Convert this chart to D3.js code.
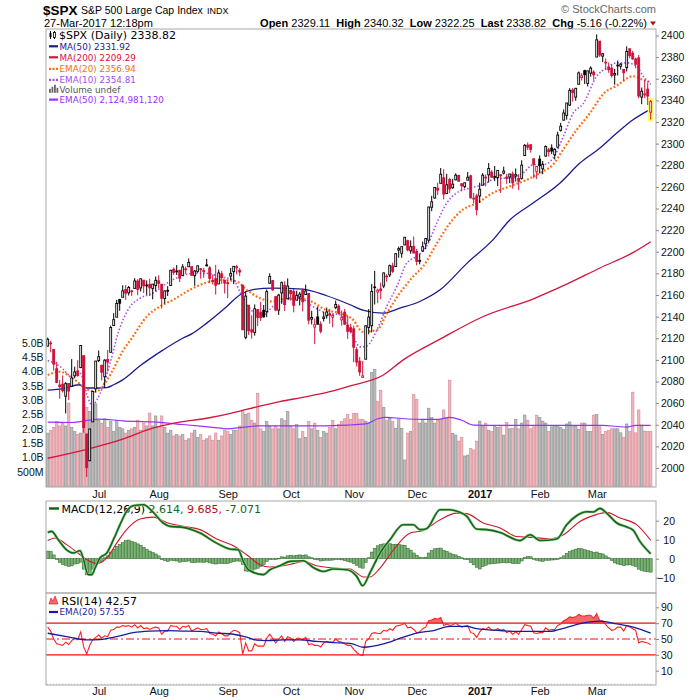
<!DOCTYPE html>
<html><head><meta charset="utf-8">
<script src="https://cdn.jsdelivr.net/npm/d3@7"></script>
<style>
body{margin:0;background:#fff}
svg{display:block}
text{font-family:"Liberation Sans",Arial,sans-serif}
.lg{font-family:"DejaVu Sans",Verdana,sans-serif}
</style>
</head><body>
<svg id="c" width="700" height="700"></svg>
<script>
// ---------- DATA ----------
const dates = [
"2016-06-08","2016-06-09","2016-06-10","2016-06-13","2016-06-14","2016-06-15","2016-06-16","2016-06-17","2016-06-20","2016-06-21","2016-06-22","2016-06-23","2016-06-24","2016-06-27","2016-06-28","2016-06-29","2016-06-30",
"2016-07-01","2016-07-05","2016-07-06","2016-07-07","2016-07-08","2016-07-11","2016-07-12","2016-07-13","2016-07-14","2016-07-15","2016-07-18","2016-07-19","2016-07-20","2016-07-21","2016-07-22","2016-07-25","2016-07-26","2016-07-27","2016-07-28","2016-07-29",
"2016-08-01","2016-08-02","2016-08-03","2016-08-04","2016-08-05","2016-08-08","2016-08-09","2016-08-10","2016-08-11","2016-08-12","2016-08-15","2016-08-16","2016-08-17","2016-08-18","2016-08-19","2016-08-22","2016-08-23","2016-08-24","2016-08-25","2016-08-26","2016-08-29","2016-08-30","2016-08-31",
"2016-09-01","2016-09-02","2016-09-06","2016-09-07","2016-09-08","2016-09-09","2016-09-12","2016-09-13","2016-09-14","2016-09-15","2016-09-16","2016-09-19","2016-09-20","2016-09-21","2016-09-22","2016-09-23","2016-09-26","2016-09-27","2016-09-28","2016-09-29","2016-09-30",
"2016-10-03","2016-10-04","2016-10-05","2016-10-06","2016-10-07","2016-10-10","2016-10-11","2016-10-12","2016-10-13","2016-10-14","2016-10-17","2016-10-18","2016-10-19","2016-10-20","2016-10-21","2016-10-24","2016-10-25","2016-10-26","2016-10-27","2016-10-28","2016-10-31",
"2016-11-01","2016-11-02","2016-11-03","2016-11-04","2016-11-07","2016-11-08","2016-11-09","2016-11-10","2016-11-11","2016-11-14","2016-11-15","2016-11-16","2016-11-17","2016-11-18","2016-11-21","2016-11-22","2016-11-23","2016-11-25","2016-11-28","2016-11-29","2016-11-30",
"2016-12-01","2016-12-02","2016-12-05","2016-12-06","2016-12-07","2016-12-08","2016-12-09","2016-12-12","2016-12-13","2016-12-14","2016-12-15","2016-12-16","2016-12-19","2016-12-20","2016-12-21","2016-12-22","2016-12-23","2016-12-27","2016-12-28","2016-12-29","2016-12-30",
"2017-01-03","2017-01-04","2017-01-05","2017-01-06","2017-01-09","2017-01-10","2017-01-11","2017-01-12","2017-01-13","2017-01-17","2017-01-18","2017-01-19","2017-01-20","2017-01-23","2017-01-24","2017-01-25","2017-01-26","2017-01-27","2017-01-30","2017-01-31",
"2017-02-01","2017-02-02","2017-02-03","2017-02-06","2017-02-07","2017-02-08","2017-02-09","2017-02-10","2017-02-13","2017-02-14","2017-02-15","2017-02-16","2017-02-17","2017-02-21","2017-02-22","2017-02-23","2017-02-24","2017-02-27","2017-02-28",
"2017-03-01","2017-03-02","2017-03-03","2017-03-06","2017-03-07","2017-03-08","2017-03-09","2017-03-10","2017-03-13","2017-03-14","2017-03-15","2017-03-16","2017-03-17","2017-03-20","2017-03-21","2017-03-22","2017-03-23","2017-03-24","2017-03-27"];

const open = [
2112.7,2115.6,2109.6,2091.8,2076.7,2077.6,2066.4,2078.2,2075.6,2085.2,2089.8,2092.8,2103.8,2031.5,2006.7,2042.7,2073.2,
2099.3,2095.1,2084.4,2100.4,2107.0,2131.7,2139.5,2155.8,2157.9,2165.1,2162.0,2163.8,2166.1,2172.9,2166.5,2173.7,2169.0,2169.8,2166.1,2168.8,
2173.1,2169.9,2156.8,2163.5,2168.8,2183.8,2182.2,2182.8,2178.0,2183.7,2186.1,2186.2,2177.8,2181.9,2184.2,2181.6,2187.8,2185.1,2173.3,2175.1,2170.2,2179.5,2173.6,
2171.3,2177.5,2181.6,2185.2,2182.8,2169.1,2120.9,2150.5,2127.9,2125.4,2146.5,2144.0,2145.9,2144.6,2170.9,2173.3,2158.5,2146.0,2161.9,2168.9,2156.5,
2164.3,2163.4,2155.2,2158.2,2164.2,2160.4,2161.4,2137.7,2130.3,2139.7,2133.0,2138.3,2140.8,2142.5,2139.4,2148.5,2149.7,2137.0,2144.1,2132.2,2129.8,
2128.7,2109.4,2098.8,2083.8,2100.6,2129.9,2131.6,2167.5,2162.7,2165.6,2168.3,2177.5,2178.6,2186.9,2186.4,2201.6,2198.6,2206.3,2210.2,2200.8,2205.0,
2200.2,2191.1,2200.7,2207.3,2210.7,2241.1,2249.7,2258.8,2263.3,2268.4,2253.8,2266.8,2259.2,2266.5,2270.5,2262.9,2260.2,2266.2,2270.2,2249.5,2251.6,
2251.6,2261.6,2268.2,2271.1,2273.6,2269.7,2268.6,2271.1,2272.7,2269.1,2269.1,2271.9,2270.0,2267.8,2267.9,2288.9,2298.6,2299.0,2286.0,2274.0,
2285.6,2276.7,2288.5,2294.3,2295.9,2289.6,2296.7,2312.3,2321.7,2326.1,2335.6,2349.6,2343.0,2354.9,2361.1,2367.5,2355.7,2365.2,2366.1,
2380.1,2394.8,2380.9,2375.2,2370.7,2369.8,2363.5,2372.5,2371.6,2368.6,2370.3,2387.7,2383.7,2378.2,2379.3,2343.0,2345.1,2350.4,2329.11];

const high = [
2120.6,2117.6,2109.6,2098.1,2081.3,2085.7,2079.6,2078.2,2100.7,2093.7,2099.7,2113.3,2103.8,2031.5,2036.1,2071.5,2098.9,
2108.7,2095.1,2100.7,2109.1,2131.7,2143.2,2155.4,2156.5,2169.0,2169.1,2168.4,2164.6,2175.6,2174.6,2175.1,2173.7,2173.5,2175.0,2170.2,2177.1,
2178.3,2170.2,2164.0,2168.2,2182.9,2185.4,2187.7,2183.4,2188.5,2186.3,2193.8,2186.2,2183.1,2187.0,2185.0,2185.2,2193.4,2186.7,2179.0,2187.9,2183.5,2182.3,2173.8,
2173.6,2184.9,2186.6,2187.9,2184.9,2169.1,2163.3,2150.5,2141.3,2151.3,2146.5,2153.6,2150.8,2165.1,2180.0,2173.8,2158.5,2161.1,2172.4,2172.7,2175.3,
2164.4,2165.5,2164.0,2162.9,2165.9,2169.6,2161.6,2145.4,2138.2,2149.2,2135.6,2144.4,2148.4,2147.2,2142.6,2154.8,2151.4,2145.7,2147.1,2140.7,2133.3,
2131.5,2111.8,2102.6,2099.1,2132.0,2146.9,2170.1,2182.3,2165.9,2171.4,2180.8,2179.2,2188.1,2189.9,2198.7,2204.8,2204.7,2213.4,2211.1,2210.5,2214.1,
2202.6,2198.0,2209.4,2212.8,2241.6,2251.7,2259.8,2264.0,2277.5,2276.2,2272.1,2268.1,2267.5,2272.6,2271.2,2263.2,2263.8,2273.8,2271.3,2254.5,2253.6,
2263.9,2272.8,2271.5,2282.1,2275.5,2279.3,2275.3,2271.8,2278.7,2272.1,2272.0,2274.3,2277.0,2271.8,2284.6,2299.6,2301.0,2299.0,2286.0,2279.1,
2289.1,2284.0,2298.3,2296.2,2299.4,2295.9,2311.1,2319.2,2331.6,2337.6,2351.3,2351.3,2351.2,2366.7,2365.1,2368.3,2367.3,2371.5,2367.8,
2401.0,2394.8,2383.9,2378.8,2375.1,2373.1,2369.1,2376.9,2374.4,2368.6,2390.0,2388.1,2385.7,2379.6,2381.9,2351.8,2358.9,2356.2,2340.32];

const low = [
2112.7,2107.0,2090.0,2078.5,2064.1,2069.8,2050.4,2062.8,2075.6,2083.0,2084.4,2092.8,2032.6,1991.7,2006.7,2042.7,2070.0,
2097.9,2080.9,2074.0,2089.4,2107.0,2131.7,2139.5,2145.4,2157.9,2155.5,2159.5,2159.0,2166.1,2159.8,2163.2,2161.9,2160.2,2159.1,2156.0,2163.5,
2166.2,2147.6,2152.1,2159.1,2168.8,2178.6,2178.5,2172.0,2178.0,2179.4,2186.1,2178.1,2168.5,2180.5,2175.1,2176.0,2186.8,2171.3,2169.7,2160.4,2170.2,2170.4,2161.4,
2157.1,2173.6,2170.1,2179.1,2177.5,2127.8,2119.1,2123.0,2119.6,2122.4,2131.2,2135.9,2139.2,2139.6,2170.9,2164.0,2145.0,2141.6,2151.8,2145.2,2156.5,
2154.8,2144.0,2155.2,2150.3,2144.9,2160.4,2132.8,2132.8,2114.7,2132.9,2124.4,2135.5,2138.2,2133.4,2130.1,2146.9,2141.9,2131.6,2132.5,2119.4,2125.5,
2097.9,2094.0,2085.2,2083.8,2100.6,2123.6,2125.4,2151.2,2152.5,2156.1,2166.4,2172.2,2176.6,2180.4,2186.4,2194.5,2194.5,2206.3,2200.4,2198.2,2198.8,
2187.4,2188.4,2200.0,2202.5,2208.9,2237.6,2249.2,2252.4,2263.3,2248.4,2253.8,2254.2,2258.2,2266.1,2265.2,2256.1,2258.8,2266.2,2249.1,2244.6,2233.6,
2245.1,2261.6,2260.5,2264.1,2268.8,2265.3,2260.8,2254.3,2271.5,2262.8,2263.4,2258.4,2265.0,2257.0,2266.7,2288.9,2294.1,2291.6,2268.0,2267.2,
2272.4,2271.7,2287.9,2288.1,2290.2,2285.4,2296.6,2311.1,2321.4,2322.2,2334.8,2338.9,2339.6,2354.9,2358.3,2355.1,2352.9,2361.9,2359.0,
2380.1,2380.2,2375.4,2368.0,2365.5,2361.0,2354.5,2363.0,2368.5,2358.2,2366.7,2379.0,2377.6,2369.7,2341.9,2336.5,2342.1,2335.7,2322.25];

const close = [
2119.1,2115.5,2096.1,2079.1,2075.3,2071.5,2078.0,2071.2,2083.3,2088.9,2085.5,2113.3,2037.4,2000.5,2036.1,2070.8,2098.9,
2103.0,2088.6,2099.7,2097.9,2129.9,2137.2,2152.1,2152.4,2163.8,2161.7,2166.9,2163.8,2173.0,2165.2,2175.0,2168.5,2169.2,2166.6,2170.1,2173.6,
2170.8,2157.0,2163.8,2164.3,2182.9,2180.9,2181.7,2175.5,2186.0,2184.1,2190.2,2178.2,2182.2,2187.0,2183.9,2182.6,2186.9,2175.4,2172.5,2169.0,2180.4,2176.1,2171.0,
2170.9,2180.0,2186.5,2186.2,2181.3,2127.8,2159.0,2127.0,2125.8,2147.3,2139.2,2139.1,2139.8,2163.1,2177.2,2164.7,2146.1,2159.9,2171.4,2151.1,2168.3,
2161.2,2150.5,2159.7,2160.8,2153.7,2163.7,2136.7,2139.2,2132.6,2133.0,2126.5,2139.6,2144.3,2141.3,2141.2,2151.3,2143.2,2139.4,2133.0,2126.4,2126.2,
2111.7,2097.9,2088.7,2085.2,2131.5,2139.6,2163.3,2167.5,2164.5,2164.2,2180.4,2176.9,2187.1,2181.9,2198.2,2202.9,2204.7,2213.4,2201.7,2204.7,2198.8,
2191.1,2192.0,2204.7,2212.2,2241.4,2246.2,2259.5,2257.0,2271.7,2253.3,2262.0,2258.1,2262.5,2270.8,2265.2,2261.0,2263.8,2268.9,2249.9,2249.3,2238.8,
2257.8,2270.8,2269.0,2277.0,2268.9,2268.9,2275.3,2270.4,2274.6,2267.9,2271.9,2263.7,2271.3,2265.2,2280.1,2298.4,2296.7,2294.7,2280.9,2278.9,
2279.6,2280.9,2297.4,2292.6,2293.1,2294.7,2307.9,2316.1,2328.3,2337.6,2349.3,2347.2,2351.2,2365.4,2362.8,2363.8,2367.3,2369.8,2363.6,
2396.0,2381.9,2383.1,2375.3,2368.4,2363.0,2364.9,2372.6,2373.5,2365.5,2385.3,2381.4,2378.3,2373.5,2344.0,2348.5,2346.0,2344.0,2338.82];
const prevCloseBefore = 2112.1;

// volume in billions of shares
const volumeB = [
1.85,1.95,2.05,2.25,2.1,2.2,2.1,2.9,2.05,1.9,1.8,1.85,4.55,2.75,2.6,2.35,2.87,
2.3,2.2,2.35,2.05,2.25,1.9,2.3,2.05,2.0,1.85,1.95,2.0,2.05,2.3,1.95,2.2,2.1,2.55,2.1,2.45,
2.05,2.45,2.05,1.85,1.95,1.75,1.8,1.75,1.8,1.6,1.65,1.85,1.95,1.7,1.8,1.6,1.65,1.75,1.6,1.85,1.6,1.75,1.95,
1.9,1.8,1.95,1.95,2.1,2.63,2.5,2.55,2.3,2.2,3.24,2.0,1.9,2.25,2.1,2.0,2.1,2.0,2.35,2.3,2.6,
2.1,2.0,2.15,1.65,1.9,1.7,2.25,2.0,2.2,1.95,1.7,1.9,1.85,2.05,2.3,2.0,2.15,2.25,2.35,2.5,2.33,
2.54,2.54,2.33,2.33,2.27,2.2,3.97,4.08,2.95,3.35,2.75,2.3,2.37,2.25,2.02,2.35,2.02,0.91,1.85,1.9,3.2,
3.03,2.2,2.33,2.2,2.72,2.39,2.2,2.3,2.33,2.66,2.37,3.7,1.84,1.78,1.57,1.7,1.05,1.08,1.32,1.26,1.57,
2.27,2.1,2.2,1.94,1.9,2.1,2.05,2.07,1.78,2.22,2.0,2.02,2.33,2.0,2.2,2.48,2.3,2.0,2.07,2.48,
2.4,2.27,2.2,1.9,2.07,2.1,2.1,2.05,1.97,2.17,2.24,2.1,2.1,1.97,2.2,2.2,1.9,1.9,2.48,
2.5,2.07,1.8,1.9,1.94,2.0,2.0,2.0,1.86,1.7,2.17,1.9,3.28,1.86,2.66,2.13,1.92,1.9,1.9];

const macdHist = [
4.0,3.8,2.0,-0.5,-2.0,-3.0,-3.5,-4.0,-3.8,-2.8,-2.5,-1.8,-5.5,-8.5,-8.2,-5.5,-3.0,
-1.8,-1.5,0.5,1.5,3.5,5.0,6.5,7.5,8.5,9.5,9.8,9.0,8.5,7.8,7.0,6.0,5.0,4.0,3.2,2.5,
1.5,-0.5,-1.0,-1.5,-0.8,-1.0,-1.2,-1.8,-1.5,-1.5,-1.2,-2.0,-2.0,-1.8,-1.8,-1.9,-1.7,-2.2,-2.5,-2.8,-2.5,-2.5,-2.6,
-2.5,-2.0,-1.5,-1.2,-1.3,-3.0,-6.5,-6.8,-6.5,-5.5,-5.0,-4.0,-3.0,-1.5,-0.5,0.0,-0.5,0.2,1.0,0.8,1.5,
1.7,1.5,1.8,2.0,1.8,2.0,1.0,0.5,-0.3,-0.6,-1.2,-1.0,-0.8,-0.8,-0.7,-0.2,-0.4,-0.6,-1.0,-1.4,-1.8,
-2.5,-3.5,-4.5,-5.0,-2.0,0.5,3.5,5.5,6.8,7.5,7.8,7.8,7.9,7.5,7.6,7.5,7.2,7.0,5.5,4.5,3.0,
1.8,0.8,0.5,0.8,3.0,4.2,5.2,5.5,5.6,4.3,3.8,3.0,2.4,2.0,1.2,0.5,0.0,-0.5,-2.0,-3.2,-4.5,
-5.4,-4.2,-3.5,-2.8,-2.7,-2.6,-2.3,-2.2,-2.0,-2.2,-2.1,-2.6,-2.4,-2.6,-1.2,0.6,1.2,1.0,0.0,-0.8,
-1.2,-1.4,-0.8,-0.8,-0.7,-0.6,-0.3,0.5,1.5,2.8,3.8,4.5,5.0,5.5,5.2,4.7,4.2,3.8,3.2,
3.5,2.8,2.5,1.5,0.5,-1.0,-2.2,-2.8,-3.2,-3.6,-3.3,-3.2,-3.5,-4.2,-5.5,-6.2,-6.6,-6.9,-7.071];

const rsi14 = [
65,60,50,44,43,42,46,43,48,51,49,59,40,31,42,49,52,
55,51,54,53,61,62,65,65,67,66,67,65,68,64,67,63,64,62,64,65,
64,56,60,60,67,66,66,62,66,65,67,60,62,64,62,62,63,57,56,54,59,57,54,
54,58,61,60,58,31,45,35,35,44,41,41,41,51,56,51,45,50,54,47,53,
51,47,51,51,49,52,43,44,42,42,40,45,47,46,46,50,47,46,44,42,42,
37,33,30,29,47,50,57,58,57,57,61,60,63,61,66,67,68,70,64,65,62,
58,59,63,65,73,74,76,75,77,67,69,67,68,70,67,65,66,67,58,57,52,
59,63,62,65,61,61,63,61,62,58,60,56,59,56,62,68,67,66,58,57,
58,58,64,61,62,62,67,69,73,75,78,77,78,81,79,79,80,80,76,
82,73,73,68,64,61,62,65,65,60,67,65,63,61,45,47,46,45,42.57];

// overlay lines: [day index, value]
const ma50Pts = [[0,2072],[5,2073.4],[10.5,2077],[13,2074],[17,2074],[19.7,2074.4],[22,2077],[25,2081.5],[30.8,2094.5],[38.4,2109],[45,2120],[48,2124],[53,2134],[59.7,2149.4],[64,2160],[68.4,2165],[75,2166.4],[85,2165.5],[93,2159.3],[100.8,2151],[105,2146],[111.8,2143.2],[117.4,2147.8],[124,2154],[130.8,2164.8],[139.8,2189.5],[148.4,2211],[154.1,2229.6],[161.8,2245],[170.8,2263.6],[177.4,2282],[184.1,2296],[189.8,2310],[195.1,2322],[201,2331.92]];
const ma200Pts = [[0,2009],[14,2018],[25,2026.6],[33,2035],[42,2041.4],[53,2046],[61,2050.6],[70,2056.8],[77.4,2061.4],[86.3,2066],[94,2070.6],[100.8,2076],[111.9,2086],[118.5,2100],[130.8,2119.2],[145.2,2140.1],[161.9,2156.5],[173,2170],[184.1,2185],[195.2,2199.4],[201,2209.29]];
const ema20Pts = [[0,2086],[4,2089],[9,2081.5],[13,2073],[16,2070.5],[19,2078],[22,2092],[25,2108],[28,2120],[33,2140],[37.4,2149.4],[41.8,2155.6],[47.4,2164.8],[53,2171.6],[58.4,2174],[63,2172.5],[66.3,2164.8],[70.8,2157],[75,2154],[79.7,2157],[86.3,2155.6],[93,2146],[97.4,2143.2],[101.8,2137],[105,2126],[109.8,2127.8],[113.1,2143.2],[117.4,2161.8],[121.8,2177],[125.1,2186.4],[129.8,2208],[134.1,2226.6],[138.4,2239],[143.1,2245],[148.4,2254.4],[154.1,2260.5],[159.8,2266.7],[165.1,2274.4],[168.4,2280.5],[171.8,2294.4],[176.4,2313],[180.8,2328.4],[185.2,2346],[189.7,2353.7],[195.1,2362.3],[198.5,2359],[201,2356.94]];
const ema10Pts = [[0,2099.4],[4.1,2094],[8.1,2084.6],[10.8,2087.7],[13.1,2067.6],[14.8,2058],[16.4,2063],[18.4,2075.3],[20.8,2097],[23.5,2125],[27.4,2149],[30.8,2157],[35.1,2161.8],[39.8,2171],[44.1,2177],[48.4,2180],[53.1,2180],[57.4,2177],[61.8,2174],[65.1,2157],[68.4,2144.7],[71.8,2141.7],[75.1,2149.4],[79.8,2155.6],[84.1,2157],[88.4,2149.4],[93.1,2143.2],[97.4,2141.7],[101.8,2121.6],[104.1,2112],[106.4,2113],[109.8,2128],[113.1,2150],[116.4,2168],[119.7,2189.5],[123,2195.7],[126.3,2205],[129.7,2226.6],[133,2245],[136.3,2254.4],[140.8,2259],[145.2,2262],[149.7,2268],[154.1,2268],[158.5,2273],[161.9,2280.5],[165.2,2280.5],[168.5,2286.7],[171.9,2306.8],[175.2,2328.4],[178.5,2337],[183,2362.3],[186.3,2370],[189.7,2374.7],[193,2374.7],[196.3,2371.6],[198.5,2362.3],[201,2354.81]];
const volEma50Pts = [[0,2.23],[8,2.22],[14,2.3],[17,2.34],[25,2.28],[35,2.24],[45,2.15],[55,2.05],[60,2.0],[65,2.05],[70,2.1],[85,2.1],[100,2.13],[106,2.17],[110,2.35],[113,2.4],[118,2.36],[125,2.33],[130,2.33],[134,2.4],[138,2.3],[142,2.13],[150,2.12],[170,2.12],[185,2.12],[190,2.08],[193,2.06],[196,2.12],[201,2.12]];
const macdPts = [[0,13.8],[1.3,14.4],[3.5,10],[6.3,4.7],[8.5,3],[10.8,4.2],[11.8,0.4],[13.5,-8.4],[14.7,-8.4],[15.8,-4.9],[17.4,0.4],[19.7,3],[21.9,10],[24.1,17.9],[26.3,24.9],[28.5,27.9],[31.9,28.4],[35.2,24.4],[38.5,18.8],[40.8,17],[45.2,16.5],[50.8,13.5],[56.3,8.2],[60.8,5.1],[63.5,4.7],[65.2,-1.4],[66.9,-5.8],[71.9,-8.4],[74.1,-5.8],[77.4,-3.7],[80.8,-1.4],[85.2,-1.1],[88.5,-4.6],[91.9,-6.7],[95.2,-5.4],[99.7,-5.8],[103,-9.3],[105,-14.2],[107.4,-7.5],[110.8,3],[114.1,10],[118.5,17.9],[121.9,17.9],[124.1,15.3],[126.3,15.8],[130.8,25.8],[134.1,25.8],[137.4,24.4],[139.7,22.3],[143,15.6],[146.3,15.3],[150.8,13.8],[157.4,9.5],[160.8,12.6],[164.1,9.6],[169.7,10.4],[173,17.9],[176.3,22.6],[179.7,24.7],[181.9,24.6],[184.1,26.5],[186.3,24],[189.7,18.8],[193,16.7],[195.2,14.9],[197.4,9.1],[201,2.614]];
const signalPts = [[0,9.6],[2.5,10.9],[6.3,7.4],[10.8,2.1],[14,-1.4],[16.3,-2.6],[19.7,0.4],[23,8.2],[26.3,15.3],[30.8,20.9],[35.2,21.9],[39.6,19.1],[45.2,17],[50.8,15.3],[56.3,10.4],[61.9,6.8],[66.3,2.1],[70.8,-3.2],[74.1,-4.4],[77.4,-4],[81.9,-2.6],[85.2,-1.4],[89.6,-3.7],[95.2,-4.9],[100.8,-5.4],[105.3,-9.6],[107.4,-9.6],[110.8,-4.9],[115.3,4.7],[120.8,13.5],[125.2,14.9],[130.8,20.5],[136.3,24],[139.7,23.7],[145.2,18.8],[150.8,16.2],[156.3,11.7],[161.9,11.2],[167.4,10.4],[171.9,12.6],[177.4,19.6],[182.9,23.2],[186.3,24.4],[190.8,21.4],[196.3,17.9],[201,9.685]];
const rsiEmaPts = [[0,57.3],[6.3,53],[13,48.9],[17.4,49.3],[23,53],[28.5,58],[34,60],[39.6,60.6],[45.2,60],[50.8,59.5],[56.3,57.4],[61.9,56],[66.3,52.3],[69.6,48.5],[73,48],[78.6,48.9],[84.1,48.9],[89.6,46.9],[95.2,45.5],[100.8,44.6],[105.2,39.6],[111.9,43.8],[117.5,51],[123,57.4],[128.6,60.7],[134.1,66],[139.7,66],[143,63],[150.8,60.7],[156.3,59.5],[161.9,59.5],[167.4,59.5],[173,64.7],[178.6,70.4],[184.1,72.5],[189.7,69],[195.2,65],[201,57.55]];

// axis tick labels
const priceTicks = [2000,2020,2040,2060,2080,2100,2120,2140,2160,2180,2200,2220,2240,2260,2280,2300,2320,2340,2360,2380,2400];
const volTicks = [0.5,1.0,1.5,2.0,2.5,3.0,3.5,4.0,4.5,5.0];
const volTickLabels = ["500M","1.0B","1.5B","2.0B","2.5B","3.0B","3.5B","4.0B","4.5B","5.0B"];
const macdTicks = [-10,0,10,20];
const rsiTicks = [10,30,50,70,90];
const monthStartDates = ["2016-07-01","2016-08-01","2016-09-01","2016-10-03","2016-11-01","2016-12-01","2017-01-03","2017-02-01","2017-03-01"];
const monthLabels = ["Jul","Aug","Sep","Oct","Nov","Dec","2017","Feb","Mar"];

// ---------- LAYOUT ----------
const L = 46, R = 656;
const pTop = 29, pBot = 487, mTop = 501, mBot = 593, rTop = 593, rBot = 685;
const RED = "#d0103a", FRAME = "#a8a8a8";

const svg = d3.select("#c");
svg.append("rect").attr("width",700).attr("height",700).attr("fill","#fff");

const n = dates.length;
const xS = d3.scaleLinear().domain([0, n-1]).range([47.7, 650.7]);
const yP = d3.scaleLinear().domain([2000, 2400]).range([468, 35.5]);
const yV = d3.scaleLinear().domain([0, 5]).range([486, 343]);
const yM = d3.scaleLinear().domain([-10, 20]).range([577.7, 520.7]);
const yR = d3.scaleLinear().domain([10, 90]).range([670.7, 607.3]);

const defs = svg.append("defs");
function clip(id, y0, y1){ defs.append("clipPath").attr("id",id).append("rect").attr("x",L).attr("y",y0).attr("width",R-L).attr("height",y1-y0); }
clip("cp", pTop, pBot); clip("cm", mTop, mBot); clip("cr", rTop, rBot);

// ---------- HEADER ----------
svg.append("text").attr("x",43).attr("y",14.5).attr("font-size",13.5).attr("font-weight","bold").text("$SPX");
svg.append("text").attr("x",81).attr("y",14).attr("font-size",10.5).text("S&P 500 Large Cap Index");
svg.append("text").attr("x",207).attr("y",14).attr("font-size",9).text("INDX");
svg.append("text").attr("x",44).attr("y",26.5).attr("font-size",11).text("27-Mar-2017 12:18pm");
svg.append("text").attr("x",656).attr("y",13).attr("font-size",11).attr("fill","#666").attr("text-anchor","end").text("\u00A9 StockCharts.com");
const hdr = svg.append("text").attr("x",647).attr("y",26.5).attr("font-size",11).attr("text-anchor","end");
[["Open",true],[" 2329.11  ",false],["High",true],[" 2340.32  ",false],["Low",true],[" 2322.25  ",false],["Last",true],[" 2338.82  ",false],["Chg",true],[" -5.16 (-0.22%)",false]]
  .forEach(([t,b]) => hdr.append("tspan").attr("font-weight", b?"bold":"normal").attr("xml:space","preserve").text(t));
svg.append("path").attr("d","M650,21.5 L656,21.5 L653,25.5 Z").attr("fill","#a01020");

// ---------- PRICE PANEL ----------
const gp = svg.append("g").attr("clip-path","url(#cp)");
const isDown = i => close[i] < (i ? close[i-1] : prevCloseBefore);
gp.append("g").selectAll("rect").data(volumeB).join("rect")
  .attr("x",(d,i)=>xS(i)-1.25).attr("width",2.5)
  .attr("y",d=>yV(d)).attr("height",d=>yV(0)-yV(d)+2)
  .attr("fill",(d,i)=>isDown(i)?"#ecb7bd":"#bdbdbd")
  .attr("stroke",(d,i)=>isDown(i)?"#d98a94":"#8f8f8f").attr("stroke-width",0.6);
const lineOf = ys => d3.line().x(d=>xS(d[0])).y(d=>ys(d[1])).curve(d3.curveMonotoneX);
gp.append("path").attr("d",lineOf(yV)(volEma50Pts)).attr("fill","none").attr("stroke","#9b30ff").attr("stroke-width",1.2);
gp.append("path").attr("d",lineOf(yP)(ma200Pts)).attr("fill","none").attr("stroke","#d4143c").attr("stroke-width",1.3);
gp.append("path").attr("d",lineOf(yP)(ma50Pts)).attr("fill","none").attr("stroke","#1a1a8c").attr("stroke-width",1.3);
gp.append("path").attr("d",lineOf(yP)(ema20Pts)).attr("fill","none").attr("stroke","#ff6a10").attr("stroke-width",2.2).attr("stroke-dasharray","1.8,2");
gp.append("path").attr("d",lineOf(yP)(ema10Pts)).attr("fill","none").attr("stroke","#a24cf0").attr("stroke-width",1.6).attr("stroke-dasharray","1.5,2");

const last = n-1;
gp.append("rect").attr("x",xS(last)-3).attr("width",6).attr("y",yP(high[last])-2).attr("height",yP(low[last])-yP(high[last])+4).attr("fill","#ffff66");

const cg = gp.append("g");
d3.range(n).forEach(i => {
  const col = isDown(i) ? RED : "#000";
  const hollow = close[i] >= open[i];
  const x = xS(i);
  cg.append("line").attr("x1",x).attr("x2",x).attr("y1",yP(high[i])).attr("y2",yP(low[i])).attr("stroke",col).attr("stroke-width",1);
  const yt = yP(Math.max(open[i],close[i])), yb = yP(Math.min(open[i],close[i]));
  cg.append("rect").attr("x",x-0.95).attr("width",1.9).attr("y",yt).attr("height",Math.max(0.8,yb-yt))
    .attr("fill",hollow?"#fff":col).attr("stroke",col).attr("stroke-width",0.9);
});

svg.append("rect").attr("x",L).attr("y",pTop).attr("width",R-L).attr("height",pBot-pTop).attr("fill","none").attr("stroke",FRAME);
const axP = svg.append("g").attr("transform",`translate(${R},0)`)
  .call(d3.axisRight(yP).tickValues(priceTicks).tickSize(3).tickPadding(2).tickFormat(d3.format("d")));
axP.select(".domain").remove();
axP.selectAll("text").attr("font-size",10.5).attr("fill","#111").attr("font-family","Liberation Sans, Arial, sans-serif");
axP.selectAll("line").attr("stroke","#888");
const axV = svg.append("g").attr("transform",`translate(${L},0)`)
  .call(d3.axisLeft(yV).tickValues(volTicks).tickSize(0).tickPadding(2.5).tickFormat((d,i)=>volTickLabels[i]));
axV.select(".domain").remove();
axV.selectAll("text").attr("font-size",10.5).attr("fill","#111").attr("font-family","Liberation Sans, Arial, sans-serif");

[pBot, rBot].forEach(yb => {
  svg.append("g").selectAll("line").data(d3.range(n)).join("line")
    .attr("x1",i=>xS(i)).attr("x2",i=>xS(i)).attr("y1",yb).attr("y2",yb-1.5).attr("stroke","#aaa").attr("stroke-width",0.6);
});

const monthIdx = monthStartDates.map(d => dates.indexOf(d));
[488.5, 685.5].forEach(y0 => {
  const ax = svg.append("g").attr("transform",`translate(0,${y0})`)
    .call(d3.axisBottom(xS).tickValues(monthIdx).tickSize(0).tickPadding(2).tickFormat((d,i)=>monthLabels[i]));
  ax.select(".domain").remove();
  ax.selectAll("text").attr("font-size",11).attr("fill","#111").attr("font-family","Liberation Sans, Arial, sans-serif")
    .attr("font-weight",(d,i)=>monthLabels[i]==="2017"?"bold":"normal");
});

// price legend
const lg = svg.append("g").attr("class","lg");
lg.append("line").attr("x1",50.5).attr("x2",50.5).attr("y1",31).attr("y2",39).attr("stroke","#000");
lg.append("rect").attr("x",49.5).attr("y",33).attr("width",2).attr("height",4).attr("fill","#000");
lg.append("line").attr("x1",54.5).attr("x2",54.5).attr("y1",31).attr("y2",39).attr("stroke","#000");
lg.append("rect").attr("x",53.5).attr("y",32.5).attr("width",2).attr("height",5).attr("fill","#fff").attr("stroke","#000").attr("stroke-width",0.8);
lg.append("text").attr("class","lg").attr("x",59).attr("y",39).attr("font-size",11).text("$SPX (Daily) 2338.82");
const legendRows = [
  {t:"MA(50) 2331.92", c:"#1a1a8c", y:49.5, dash:null},
  {t:"MA(200) 2209.29", c:"#d4143c", y:60.5, dash:null},
  {t:"EMA(20) 2356.94", c:"#ff6a10", y:72, dash:"2,1.5"},
  {t:"EMA(10) 2354.81", c:"#a24cf0", y:83, dash:"2,1.5"},
  {t:"Volume undef", c:"#555", y:92.8, dash:"vol"},
  {t:"EMA(50) 2,124,981,120", c:"#9b30ff", y:102.8, dash:null}];
legendRows.forEach(r => {
  if (r.dash === "vol") {
    [[49,4],[51.5,6],[54,8],[56.5,5]].forEach(([bx,h]) => lg.append("rect").attr("x",bx).attr("y",r.y-h).attr("width",1.8).attr("height",h).attr("fill","#666"));
  } else {
    lg.append("line").attr("x1",49).attr("x2",58).attr("y1",r.y-3.2).attr("y2",r.y-3.2).attr("stroke",r.c).attr("stroke-width",2.2).attr("stroke-dasharray",r.dash);
  }
  lg.append("text").attr("class","lg").attr("x",59.5).attr("y",r.y).attr("font-size",8.8).attr("fill",r.c).text(r.t);
});

// ---------- MACD PANEL ----------
const gm = svg.append("g").attr("clip-path","url(#cm)");
gm.append("g").selectAll("rect").data(macdHist).join("rect")
  .attr("x",(d,i)=>xS(i)-1.5).attr("width",3)
  .attr("y",d=>Math.min(yM(d),yM(0))).attr("height",d=>Math.max(0.6,Math.abs(yM(d)-yM(0))))
  .attr("fill","#7db275").attr("stroke","#2f6a2f").attr("stroke-width",0.55);
gm.append("path").attr("d",lineOf(yM)(signalPts)).attr("fill","none").attr("stroke","#cc1828").attr("stroke-width",1.1);
gm.append("path").attr("d",lineOf(yM)(macdPts)).attr("fill","none").attr("stroke","#a6d6a0").attr("stroke-width",2.8);
gm.append("path").attr("d",lineOf(yM)(macdPts)).attr("fill","none").attr("stroke","#15661a").attr("stroke-width",1.6);
svg.append("rect").attr("x",L).attr("y",mTop).attr("width",R-L).attr("height",mBot-mTop).attr("fill","none").attr("stroke",FRAME);
const axM = svg.append("g").attr("transform",`translate(${R},0)`)
  .call(d3.axisRight(yM).tickValues(macdTicks).tickSize(3).tickPadding(2).tickFormat(d3.format("d")));
axM.select(".domain").remove();
axM.selectAll("text").attr("font-size",10.5).attr("fill","#111").attr("text-anchor","end").attr("x",19).attr("font-family","Liberation Sans, Arial, sans-serif");
axM.selectAll("line").attr("stroke","#888");
lg.append("line").attr("x1",49).attr("x2",59).attr("y1",508.5).attr("y2",508.5).attr("stroke","#15661a").attr("stroke-width",2.5);
const mt = lg.append("text").attr("class","lg").attr("x",61.5).attr("y",512.5).attr("font-size",11);
mt.append("tspan").attr("fill","#000").text("MACD(12,26,9) ");
mt.append("tspan").attr("fill","#15661a").text("2.614, ");
mt.append("tspan").attr("fill","#b01020").text("9.685, ");
mt.append("tspan").attr("fill","#15661a").text("-7.071");

// ---------- RSI PANEL ----------
const gr = svg.append("g").attr("clip-path","url(#cr)");
const idxRsi = rsi14.map((v,i)=>[i,v]);
gr.append("path").attr("d", d3.area().x(d=>xS(d[0])).y0(yR(70)).y1(d=>yR(Math.max(70,d[1])))(idxRsi)).attr("fill","#f46a6a");
gr.append("path").attr("d", d3.area().x(d=>xS(d[0])).y0(yR(30)).y1(d=>yR(Math.min(30,d[1])))(idxRsi)).attr("fill","#f46a6a");
[70,30].forEach(v => gr.append("line").attr("x1",L).attr("x2",R).attr("y1",yR(v)).attr("y2",yR(v)).attr("stroke","#ee1111").attr("stroke-width",1.2));
gr.append("line").attr("x1",L).attr("x2",R).attr("y1",yR(50)).attr("y2",yR(50)).attr("stroke","#ee1111").attr("stroke-width",1).attr("stroke-dasharray","8,3,2,3");
gr.append("path").attr("d",d3.line().x(d=>xS(d[0])).y(d=>yR(d[1]))(idxRsi)).attr("fill","none").attr("stroke","#ff2020").attr("stroke-width",1.1);
gr.append("path").attr("d",lineOf(yR)(rsiEmaPts)).attr("fill","none").attr("stroke","#1a1aa0").attr("stroke-width",1.3);
svg.append("rect").attr("x",L).attr("y",rTop).attr("width",R-L).attr("height",rBot-rTop).attr("fill","none").attr("stroke",FRAME);
const axR = svg.append("g").attr("transform",`translate(${R},0)`)
  .call(d3.axisRight(yR).tickValues(rsiTicks).tickSize(3).tickPadding(2).tickFormat(d3.format("d")));
axR.select(".domain").remove();
axR.selectAll("text").attr("font-size",10.5).attr("fill","#111").attr("font-family","Liberation Sans, Arial, sans-serif");
axR.selectAll("line").attr("stroke","#888");
lg.append("path").attr("d","M49,604 L51,598 L53,601 L55,596 L58,604 Z").attr("fill","#f46a6a").attr("stroke","#e02020").attr("stroke-width",0.7);
lg.append("text").attr("class","lg").attr("x",61.5).attr("y",604.5).attr("font-size",11).text("RSI(14) 42.57");
lg.append("line").attr("x1",49).attr("x2",58).attr("y1",612).attr("y2",612).attr("stroke","#1a1aa0").attr("stroke-width",2.2);
lg.append("text").attr("class","lg").attr("x",59.5).attr("y",615.2).attr("font-size",8.8).attr("fill","#1a1aa0").text("EMA(20) 57.55");
</script>
</body></html>
